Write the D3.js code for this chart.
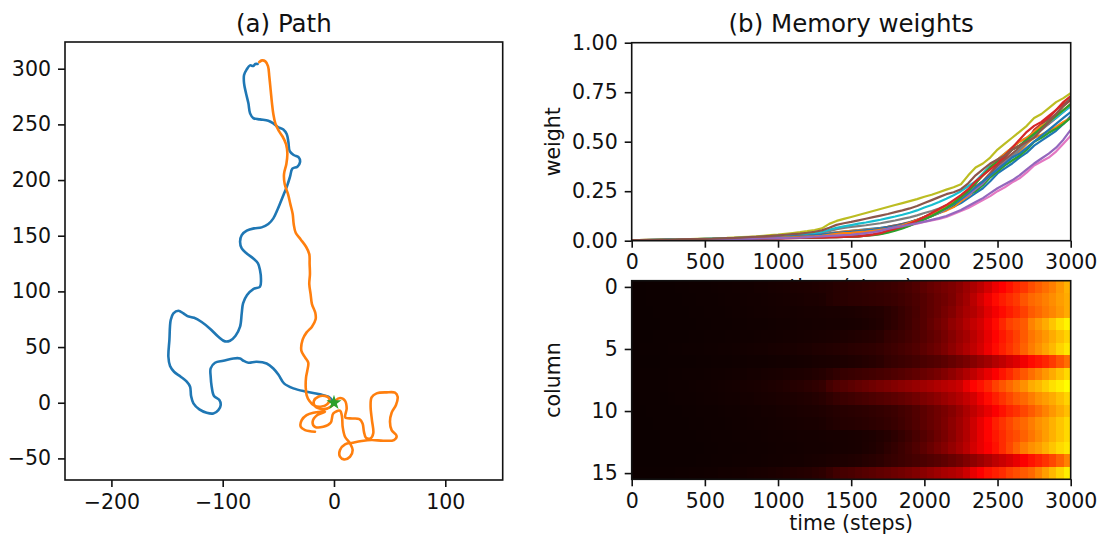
<!DOCTYPE html>
<html>
<head>
<meta charset="utf-8">
<script src="https://cdn.jsdelivr.net/npm/d3@7"></script>
<style>
  html, body { margin: 0; padding: 0; background: #fff; }
  svg { display: block; }
  text { font-family: "DejaVu Sans", sans-serif; fill: #111; }
</style>
</head>
<body>
<svg id="fig" width="1105" height="542"></svg>
<script>
// ---- (a) agent trajectories, [x, y] in world units ----
const pathBlue = [
  [0,0],[-5.1,5.4],[-12.6,7.5],[-24.6,9.9],[-36.5,12.9],[-44.9,17.4],[-49.7,24.9],[-54.5,30.8],
  [-60.5,35.3],[-69.5,36.8],[-76.9,35.9],[-81.4,37.7],[-84.4,39.8],[-90.4,39.8],[-99.4,37.7],
  [-106.9,35.9],[-110.8,30.8],[-110.8,23.4],[-109.9,14.4],[-107.8,6.0],[-103.0,2.4],[-101.8,-2.1],
  [-103.9,-6.6],[-108.4,-9.6],[-114.4,-9.0],[-121.0,-6.0],[-126.3,-0.6],[-128.4,6.0],[-129.3,14.4],
  [-132.3,18.9],[-137.7,23.4],[-143.7,27.8],[-147.3,32.9],[-148.8,41.3],[-147.9,56.3],[-146.7,74.3],
  [-144.3,80.2],[-139.8,82.6],[-135.3,80.2],[-131.7,77.8],[-125.7,76.3],[-118.9,72.5],[-111.4,66.5],
  [-103.9,59.3],[-97.9,55.1],[-93.4,55.7],[-88.6,59.9],[-84.4,68.3],[-82.9,80.2],[-81.7,89.2],
  [-78.1,96.7],[-72.5,102.1],[-66.5,104.2],[-65.6,110.8],[-66.5,119.2],[-68.3,125.1],[-72.5,129.6],
  [-78.4,134.1],[-82.9,138.6],[-84.4,144.6],[-82.9,150.6],[-78.4,154.5],[-71.9,156.6],[-65.0,157.5],
  [-59.0,160.5],[-54.5,165.6],[-50.9,173.1],[-48.2,179.6],[-45.2,187.1],[-42.2,194.6],[-39.5,203.0],
  [-37.4,210.2],[-32.9,212.0],[-30.5,216.2],[-31.7,220.4],[-36.2,222.5],[-39.8,226.0],[-41.0,234.4],
  [-42.5,241.3],[-45.5,245.5],[-50.0,247.3],[-54.5,250.9],[-59.0,253.3],[-66.5,254.5],[-72.5,255.7],
  [-75.4,259.9],[-76.9,268.9],[-79.0,277.8],[-80.8,286.8],[-80.8,294.3],[-78.4,299.4],[-75.4,303.0],
  [-72.5,302.4],[-70.7,304.2],[-68.6,304.2]
];
const pathOrange = [
  [-67.1,306.0],[-64.7,307.5],[-61.7,306.6],[-59.3,302.4],[-58.1,292.8],[-56.9,280.8],[-55.7,268.9],
  [-54.5,259.3],[-52.7,250.9],[-49.7,244.3],[-46.1,238.9],[-43.1,232.3],[-41.9,224.0],[-42.8,214.4],
  [-44.9,205.4],[-44.3,196.4],[-41.3,187.4],[-39.2,178.4],[-37.1,169.5],[-36.2,160.5],[-34.4,152.7],
  [-29.9,146.7],[-25.1,140.1],[-22.2,133.5],[-21.9,124.6],[-21.6,115.6],[-22.2,106.6],[-21.0,97.6],
  [-19.8,88.6],[-16.8,80.8],[-16.5,74.9],[-19.8,68.3],[-24.6,63.2],[-28.1,56.9],[-29.3,46.7],
  [-26.0,40.7],[-23.1,35.9],[-24.0,28.7],[-25.1,22.8],[-25.4,13.8],[-24.6,6.9],[-22.2,1.8],
  [-18.0,-2.4],[-12.0,-3.6],[-6.0,-1.2],[-4.2,3.6],[-8.1,6.0],[-14.1,5.4],[-18.0,1.8],[-17.1,-3.0],
  [-9.6,-6.0],[-2.1,-3.0],[1.2,1.8],[5.4,4.2],[9.9,1.8],[11.4,-5.1],[10.2,-13.2],[16.2,-14.1],
  [22.8,-14.7],[25.7,-18.6],[26.9,-26.0],[28.7,-31.4],[32.9,-32.0],[35.3,-27.5],[34.1,-15.6],
  [32.9,-3.6],[33.8,4.8],[38.3,8.4],[47.3,9.3],[54.8,9.0],[57.2,5.4],[55.7,-2.1],[51.8,-9.0],
  [50.3,-17.1],[51.8,-24.6],[56.3,-29.9],[53.9,-33.5],[44.3,-34.1],[33.8,-33.5],[24.9,-34.4],
  [16.8,-35.9],[9.9,-37.4],[5.4,-42.5],[5.4,-48.5],[9.0,-50.9],[14.4,-48.5],[16.8,-42.5],
  [14.4,-36.5],[9.9,-30.5],[7.8,-21.6],[7.2,-12.6],[5.4,-7.2],[-0.6,-9.6],[-3.0,-18.0],
  [-9.6,-21.6],[-17.1,-21.6],[-19.2,-17.1],[-15.0,-11.1],[-8.1,-8.1],[-18.6,-9.0],[-24.6,-11.1],
  [-29.0,-15.6],[-29.9,-21.6],[-26.0,-24.6],[-17.1,-26.0]
];
const startPoint = [0, 0];
const pathXTicks = [-200, -100, 0, 100];
const pathYTicks = [-50, 0, 50, 100, 150, 200, 250, 300];

// ---- (b) memory weights per column, sampled every 50 steps from 0 to 3000 ----
const stepSize = 50;
const col0 = [0.002,0.002,0.003,0.003,0.004,0.004,0.005,0.005,0.006,0.006,0.007,0.008,0.009,0.010,0.011,0.012,0.013,0.015,0.016,0.018,0.020,
  0.022,0.024,0.026,0.028,0.030,0.033,0.037,0.042,0.046,0.050,
  0.053,0.057,0.061,0.065,0.070,0.076,0.083,0.092,0.104,0.120,
  0.135,0.147,0.160,0.172,0.190,0.215,0.240,0.265,0.300,0.340,
  0.365,0.390,0.420,0.445,0.480,0.505,0.530,0.555,0.590,0.630];
const col1 = [0.002,0.002,0.003,0.003,0.003,0.004,0.004,0.005,0.005,0.006,0.007,0.007,0.008,0.009,0.010,0.011,0.012,0.013,0.014,0.015,0.017,
  0.018,0.020,0.022,0.024,0.025,0.028,0.036,0.042,0.046,0.050,
  0.052,0.055,0.058,0.061,0.065,0.070,0.077,0.085,0.096,0.110,
  0.125,0.140,0.152,0.170,0.200,0.225,0.260,0.300,0.340,0.380,
  0.405,0.430,0.450,0.490,0.520,0.535,0.555,0.575,0.600,0.620];
const col2 = [0.002,0.002,0.002,0.003,0.003,0.003,0.004,0.004,0.005,0.005,0.006,0.006,0.007,0.008,0.009,0.010,0.011,0.012,0.013,0.014,0.015,
  0.016,0.016,0.017,0.018,0.019,0.020,0.021,0.022,0.023,0.025,
  0.027,0.030,0.033,0.037,0.045,0.055,0.066,0.078,0.092,0.110,
  0.125,0.140,0.160,0.180,0.210,0.235,0.250,0.280,0.320,0.350,
  0.380,0.405,0.430,0.460,0.500,0.520,0.545,0.565,0.590,0.620];
const col3 = [0.002,0.002,0.002,0.002,0.003,0.003,0.003,0.004,0.004,0.005,0.005,0.006,0.006,0.007,0.008,0.008,0.009,0.010,0.010,0.011,0.012,
  0.013,0.014,0.015,0.016,0.017,0.017,0.018,0.018,0.019,0.020,
  0.022,0.025,0.029,0.034,0.045,0.055,0.066,0.078,0.094,0.110,
  0.130,0.150,0.170,0.200,0.220,0.250,0.275,0.300,0.340,0.380,
  0.420,0.460,0.480,0.500,0.560,0.590,0.620,0.660,0.700,0.730];
const col4 = [0.002,0.002,0.002,0.003,0.003,0.003,0.004,0.004,0.005,0.005,0.006,0.006,0.007,0.008,0.008,0.009,0.010,0.011,0.012,0.013,0.014,
  0.015,0.016,0.017,0.018,0.020,0.021,0.023,0.025,0.027,0.030,
  0.033,0.036,0.040,0.045,0.060,0.066,0.074,0.084,0.096,0.110,
  0.125,0.140,0.160,0.185,0.210,0.230,0.260,0.290,0.330,0.370,
  0.400,0.430,0.460,0.500,0.540,0.565,0.590,0.620,0.650,0.680];
const col5 = [0.002,0.003,0.003,0.004,0.004,0.005,0.005,0.006,0.006,0.007,0.008,0.008,0.009,0.010,0.011,0.012,0.014,0.015,0.016,0.018,0.020,
  0.021,0.022,0.024,0.026,0.030,0.032,0.035,0.038,0.041,0.045,
  0.048,0.051,0.055,0.060,0.070,0.077,0.085,0.094,0.105,0.120,
  0.135,0.150,0.170,0.195,0.220,0.245,0.270,0.300,0.340,0.380,
  0.410,0.440,0.470,0.510,0.550,0.580,0.610,0.640,0.680,0.710];
const col6 = [0.002,0.002,0.002,0.002,0.003,0.003,0.003,0.004,0.004,0.005,0.005,0.006,0.006,0.007,0.008,0.008,0.009,0.010,0.010,0.011,0.012,
  0.013,0.014,0.015,0.017,0.020,0.021,0.023,0.025,0.027,0.030,
  0.034,0.038,0.042,0.048,0.060,0.066,0.072,0.078,0.086,0.095,
  0.102,0.110,0.120,0.135,0.150,0.165,0.185,0.205,0.225,0.250,
  0.270,0.295,0.315,0.345,0.380,0.400,0.420,0.450,0.490,0.530];
const col7 = [0.002,0.003,0.003,0.004,0.004,0.005,0.005,0.006,0.007,0.007,0.008,0.009,0.010,0.011,0.012,0.013,0.015,0.016,0.018,0.020,0.022,
  0.024,0.026,0.028,0.031,0.035,0.040,0.048,0.058,0.065,0.070,
  0.074,0.078,0.083,0.088,0.095,0.102,0.110,0.118,0.128,0.140,
  0.150,0.162,0.178,0.198,0.220,0.245,0.270,0.300,0.330,0.360,
  0.395,0.425,0.460,0.495,0.530,0.560,0.590,0.620,0.655,0.690];
const col8 = [0.003,0.003,0.004,0.004,0.005,0.006,0.006,0.007,0.008,0.009,0.010,0.011,0.013,0.014,0.016,0.018,0.020,0.022,0.025,0.028,0.031,
  0.035,0.039,0.043,0.048,0.054,0.062,0.085,0.100,0.110,0.120,
  0.130,0.140,0.150,0.160,0.170,0.180,0.190,0.200,0.210,0.222,
  0.232,0.245,0.258,0.270,0.285,0.330,0.370,0.390,0.420,0.460,
  0.490,0.520,0.550,0.580,0.620,0.640,0.670,0.700,0.720,0.745];
const col9 = [0.002,0.003,0.003,0.004,0.004,0.005,0.006,0.006,0.007,0.008,0.009,0.010,0.011,0.012,0.013,0.015,0.016,0.018,0.020,0.022,0.024,
  0.026,0.028,0.031,0.034,0.038,0.044,0.055,0.065,0.072,0.079,
  0.086,0.092,0.099,0.106,0.114,0.122,0.131,0.141,0.153,0.168,
  0.180,0.195,0.212,0.230,0.250,0.275,0.300,0.340,0.380,0.410,
  0.440,0.470,0.500,0.520,0.550,0.580,0.600,0.620,0.650,0.680];
const col10 = [0.002,0.002,0.003,0.003,0.003,0.004,0.004,0.005,0.005,0.006,0.007,0.007,0.008,0.009,0.010,0.011,0.012,0.013,0.015,0.016,0.018,
  0.020,0.022,0.024,0.026,0.028,0.031,0.035,0.039,0.042,0.045,
  0.048,0.052,0.056,0.060,0.066,0.073,0.082,0.092,0.105,0.120,
  0.135,0.150,0.165,0.185,0.210,0.240,0.270,0.300,0.330,0.360,
  0.390,0.420,0.440,0.470,0.500,0.530,0.560,0.590,0.620,0.650];
const col11 = [0.002,0.002,0.002,0.003,0.003,0.003,0.004,0.004,0.005,0.005,0.006,0.006,0.007,0.008,0.009,0.010,0.011,0.012,0.013,0.014,0.015,
  0.017,0.018,0.020,0.021,0.022,0.025,0.030,0.035,0.038,0.040,
  0.043,0.046,0.050,0.055,0.060,0.068,0.078,0.090,0.104,0.120,
  0.135,0.150,0.170,0.195,0.220,0.250,0.290,0.330,0.370,0.410,
  0.440,0.470,0.500,0.520,0.550,0.580,0.600,0.630,0.660,0.690];
const col12 = [0.002,0.002,0.002,0.002,0.003,0.003,0.003,0.004,0.004,0.005,0.005,0.006,0.006,0.007,0.008,0.009,0.009,0.010,0.011,0.012,0.013,
  0.014,0.014,0.015,0.016,0.016,0.017,0.018,0.018,0.019,0.020,
  0.022,0.025,0.028,0.033,0.040,0.050,0.062,0.076,0.092,0.108,
  0.125,0.145,0.165,0.190,0.220,0.250,0.290,0.330,0.370,0.400,
  0.430,0.460,0.480,0.510,0.540,0.570,0.600,0.630,0.660,0.690];
const col13 = [0.002,0.002,0.002,0.002,0.003,0.003,0.003,0.004,0.004,0.004,0.005,0.005,0.006,0.007,0.007,0.008,0.009,0.010,0.010,0.011,0.012,
  0.013,0.013,0.014,0.015,0.016,0.016,0.017,0.018,0.019,0.020,
  0.022,0.026,0.031,0.038,0.050,0.060,0.072,0.086,0.102,0.120,
  0.140,0.160,0.180,0.205,0.230,0.260,0.300,0.330,0.360,0.390,
  0.430,0.470,0.510,0.550,0.580,0.600,0.630,0.660,0.690,0.710];
const col14 = [0.002,0.002,0.002,0.002,0.003,0.003,0.003,0.004,0.004,0.005,0.005,0.006,0.006,0.007,0.008,0.009,0.009,0.010,0.011,0.012,0.013,
  0.014,0.015,0.016,0.018,0.020,0.022,0.024,0.026,0.028,0.030,
  0.034,0.039,0.044,0.050,0.060,0.067,0.074,0.081,0.088,0.096,
  0.105,0.114,0.125,0.140,0.155,0.175,0.195,0.215,0.240,0.265,
  0.285,0.305,0.330,0.360,0.390,0.415,0.440,0.470,0.510,0.560];
const col15 = [0.003,0.003,0.004,0.004,0.005,0.005,0.006,0.007,0.008,0.008,0.009,0.010,0.012,0.013,0.014,0.016,0.018,0.020,0.022,0.024,0.027,
  0.030,0.033,0.036,0.040,0.045,0.052,0.065,0.080,0.088,0.095,
  0.103,0.111,0.119,0.127,0.135,0.144,0.153,0.163,0.175,0.190,
  0.205,0.220,0.235,0.245,0.260,0.290,0.330,0.360,0.390,0.410,
  0.430,0.460,0.480,0.500,0.520,0.560,0.600,0.640,0.680,0.720];
const memoryWeights = [col0,col1,col2,col3,col4,col5,col6,col7,col8,col9,col10,col11,col12,col13,col14,col15];
const timeTicks = [0, 500, 1000, 1500, 2000, 2500, 3000];
const weightTicks = [0, 0.25, 0.5, 0.75, 1.0];
const columnTicks = [0, 5, 10, 15];
const lineColors = ["#1f77b4","#ff7f0e","#2ca02c","#d62728","#9467bd","#8c564b","#e377c2","#7f7f7f","#bcbd22","#17becf"];

// ---- layout ----
const FONT = 20.5, TITLE = 24.5, TICK = 7, PAD = 7;
const svg = d3.select("#fig");
svg.append("rect").attr("width", 1105).attr("height", 542).attr("fill", "#fff");

const boxA = {x0: 65, x1: 502.7, y0: 42, y1: 480};
const boxW = {x0: 631.7, x1: 1070.7, y0: 42.7, y1: 240.7};
const boxH = {x0: 631.7, x1: 1070.7, y0: 280.7, y1: 479.3};

function styleAxis(g) {
  g.selectAll("path.domain").remove();
  g.selectAll(".tick line").attr("stroke", "#111").attr("stroke-width", 1.6);
  g.selectAll(".tick text").attr("font-size", FONT).attr("font-family", "DejaVu Sans").attr("fill", "#111");
}
function frame(b) {
  svg.append("rect").attr("x", b.x0).attr("y", b.y0)
    .attr("width", b.x1 - b.x0).attr("height", b.y1 - b.y0)
    .attr("fill", "none").attr("stroke", "#111").attr("stroke-width", 1.6);
}
const minusFmt = d => (d < 0 ? "\u2212" + Math.abs(d) : String(d));

// ---- (a) Path ----
const xA = d3.scaleLinear().domain([-241.7, 151.6]).range([boxA.x0, boxA.x1]);
const yA = d3.scaleLinear().domain([-69.4, 324]).range([boxA.y1, boxA.y0]);
svg.append("defs").append("clipPath").attr("id", "clipA")
  .append("rect").attr("x", boxA.x0).attr("y", boxA.y0)
  .attr("width", boxA.x1 - boxA.x0).attr("height", boxA.y1 - boxA.y0);

const pathLine = d3.line().x(d => xA(d[0])).y(d => yA(d[1])).curve(d3.curveCatmullRom.alpha(0.5));
const gA = svg.append("g").attr("clip-path", "url(#clipA)");
[pathBlue, pathOrange].forEach((p, i) => {
  gA.append("path").datum(p).attr("d", pathLine)
    .attr("fill", "none").attr("stroke", lineColors[i]).attr("stroke-width", 2.6)
    .attr("stroke-linejoin", "round").attr("stroke-linecap", "round");
});
gA.append("path").attr("d", d3.symbol(d3.symbolStar).size(70))
  .attr("transform", `translate(${xA(startPoint[0])},${yA(startPoint[1])})`)
  .attr("fill", "#2ca02c");

svg.append("g").attr("transform", `translate(0,${boxA.y1})`)
  .call(d3.axisBottom(xA).tickValues(pathXTicks).tickFormat(minusFmt).tickSize(TICK).tickPadding(PAD))
  .call(styleAxis);
svg.append("g").attr("transform", `translate(${boxA.x0},0)`)
  .call(d3.axisLeft(yA).tickValues(pathYTicks).tickFormat(minusFmt).tickSize(TICK).tickPadding(PAD))
  .call(styleAxis);
frame(boxA);
svg.append("text").attr("x", (boxA.x0 + boxA.x1) / 2).attr("y", 32)
  .attr("text-anchor", "middle").attr("font-size", TITLE).text("(a) Path");

// ---- (b) Memory weights: line plot ----
const xW = d3.scaleLinear().domain([0, 3000]).range([boxW.x0, boxW.x1]);
const yW = d3.scaleLinear().domain([0, 1]).range([boxW.y1, boxW.y0]);
const weightLine = d3.line().x((d, i) => xW(i * stepSize)).y(d => yW(d));

// x label of the line plot sits under the heatmap, which hides all but its top edge
svg.append("text").attr("x", (boxW.x0 + boxW.x1) / 2).attr("y", boxW.y1 + 53)
  .attr("text-anchor", "middle").attr("font-size", FONT).text("time (steps)");

svg.append("defs").append("clipPath").attr("id", "clipW")
  .append("rect").attr("x", boxW.x0).attr("y", boxW.y0)
  .attr("width", boxW.x1 - boxW.x0).attr("height", boxW.y1 - boxW.y0);
const gW = svg.append("g").attr("clip-path", "url(#clipW)");
memoryWeights.forEach((row, i) => {
  gW.append("path").datum(row).attr("d", weightLine)
    .attr("fill", "none").attr("stroke", lineColors[i % 10]).attr("stroke-width", 2.2)
    .attr("stroke-linejoin", "round");
});
svg.append("g").attr("transform", `translate(0,${boxW.y1})`)
  .call(d3.axisBottom(xW).tickValues(timeTicks).tickFormat(d3.format("d")).tickSize(TICK).tickPadding(PAD))
  .call(styleAxis);
svg.append("g").attr("transform", `translate(${boxW.x0},0)`)
  .call(d3.axisLeft(yW).tickValues(weightTicks).tickFormat(d3.format(".2f")).tickSize(TICK).tickPadding(PAD))
  .call(styleAxis);
frame(boxW);
svg.append("text").attr("transform", `translate(560,${(boxW.y0 + boxW.y1) / 2}) rotate(-90)`)
  .attr("text-anchor", "middle").attr("font-size", FONT).text("weight");
svg.append("text").attr("x", (boxW.x0 + boxW.x1) / 2).attr("y", 32)
  .attr("text-anchor", "middle").attr("font-size", TITLE).text("(b) Memory weights");

// ---- (b) Memory weights: heatmap with the "hot" colormap over [0, 1] ----
const hotR = d3.scaleLinear().domain([0, 0.365079, 1]).range([0.0416, 1, 1]).clamp(true);
const hotG = d3.scaleLinear().domain([0, 0.365079, 0.746032, 1]).range([0, 0, 1, 1]).clamp(true);
const hotB = d3.scaleLinear().domain([0, 0.746032, 1]).range([0, 0, 1]).clamp(true);
const hot = v => d3.rgb(255 * hotR(v), 255 * hotG(v), 255 * hotB(v)).toString();

const nCols = col0.length;
const xH = d3.scaleLinear().domain([0, 3000]).range([boxH.x0, boxH.x1]);
const yH = d3.scaleBand().domain(d3.range(memoryWeights.length)).range([boxH.y0, boxH.y1]);
const cellSpan = 3000 / nCols;
const gH = svg.append("g").attr("shape-rendering", "crispEdges");
memoryWeights.forEach((row, r) => {
  gH.selectAll(null).data(row).enter().append("rect")
    .attr("x", (d, i) => xH(i * cellSpan))
    .attr("width", (d, i) => xH((i + 1) * cellSpan) - xH(i * cellSpan) + 0.6)
    .attr("y", yH(r)).attr("height", yH.bandwidth() + 0.5)
    .attr("fill", d => hot(d));
});
svg.append("rect").attr("x", boxH.x1).attr("y", boxH.y0 - 1).attr("width", 3).attr("height", boxH.y1 - boxH.y0 + 2).attr("fill", "#fff");
const yHc = d3.scaleLinear().domain([-0.5, 15.5]).range([boxH.y0, boxH.y1]);
svg.append("g").attr("transform", `translate(0,${boxH.y1})`)
  .call(d3.axisBottom(xH).tickValues(timeTicks).tickFormat(d3.format("d")).tickSize(TICK).tickPadding(PAD))
  .call(styleAxis);
svg.append("g").attr("transform", `translate(${boxH.x0},0)`)
  .call(d3.axisLeft(yHc).tickValues(columnTicks).tickSize(TICK).tickPadding(PAD))
  .call(styleAxis);
frame(boxH);
svg.append("text").attr("transform", `translate(560,${(boxH.y0 + boxH.y1) / 2}) rotate(-90)`)
  .attr("text-anchor", "middle").attr("font-size", FONT).text("column");
svg.append("text").attr("x", (boxH.x0 + boxH.x1) / 2).attr("y", 530)
  .attr("text-anchor", "middle").attr("font-size", FONT).text("time (steps)");
</script>
</body>
</html>
